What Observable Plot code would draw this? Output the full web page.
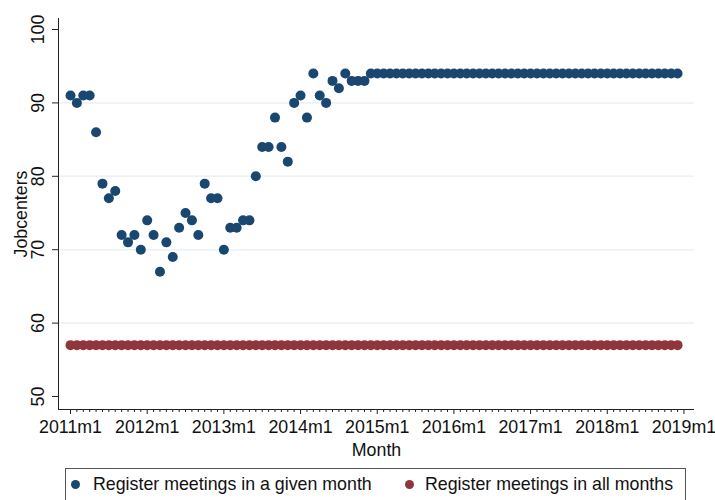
<!DOCTYPE html>
<html>
<head>
<meta charset="utf-8">
<script src="https://cdn.jsdelivr.net/npm/d3@7"></script>
<script src="https://cdn.jsdelivr.net/npm/@observablehq/plot@0.6"></script>
<style>
  body { margin: 0; background: #fff; font-family: "Liberation Sans", Arial, sans-serif; }
  #wrap { position: relative; width: 715px; height: 500px; overflow: hidden; }
  #legend { position: absolute; left: 65px; top: 468px; width: 621px; height: 40px; border: 1px solid #555; box-sizing: border-box; }
  .item { position: absolute; top: 9px; font-size: 17.8px; color: #111; white-space: nowrap; line-height: 18px; }
  .dot { position: absolute; width: 9px; height: 9px; border-radius: 50%; top: 4px; }
</style>
</head>
<body>
<div id="wrap"></div>
<script>
// Monthly data, 2011m1 .. 2018m12 (month index 0..95)
const monthIndex = [
  0,1,2,3,4,5,6,7,8,9,10,11,
  12,13,14,15,16,17,18,19,20,21,22,23,
  24,25,26,27,28,29,30,31,32,33,34,35,
  36,37,38,39,40,41,42,43,44,45,46,47,
  48,49,50,51,52,53,54,55,56,57,58,59,
  60,61,62,63,64,65,66,67,68,69,70,71,
  72,73,74,75,76,77,78,79,80,81,82,83,
  84,85,86,87,88,89,90,91,92,93,94,95
];
const givenMonth = [
  91,90,91,91,86,79,77,78,72,71,72,70,
  74,72,67,71,69,73,75,74,72,79,77,77,
  70,73,73,74,74,80,84,84,88,84,82,90,
  91,88,94,91,90,93,92,94,93,93,93,94,
  94,94,94,94,94,94,94,94,94,94,94,94,
  94,94,94,94,94,94,94,94,94,94,94,94,
  94,94,94,94,94,94,94,94,94,94,94,94,
  94,94,94,94,94,94,94,94,94,94,94,94
];
const allMonths = [
  57,57,57,57,57,57,57,57,57,57,57,57,
  57,57,57,57,57,57,57,57,57,57,57,57,
  57,57,57,57,57,57,57,57,57,57,57,57,
  57,57,57,57,57,57,57,57,57,57,57,57,
  57,57,57,57,57,57,57,57,57,57,57,57,
  57,57,57,57,57,57,57,57,57,57,57,57,
  57,57,57,57,57,57,57,57,57,57,57,57,
  57,57,57,57,57,57,57,57,57,57,57,57
];
const xTickPos = [0, 12, 24, 36, 48, 60, 72, 84, 96];
const xTickLabels = ["2011m1","2012m1","2013m1","2014m1","2015m1","2016m1","2017m1","2018m1","2019m1"];
const minorTickPos = [
  1,2,3,4,5,6,7,8,9,10,11,13,14,15,16,17,18,19,20,21,22,23,
  25,26,27,28,29,30,31,32,33,34,35,37,38,39,40,41,42,43,44,45,46,47,
  49,50,51,52,53,54,55,56,57,58,59,61,62,63,64,65,66,67,68,69,70,71,
  73,74,75,76,77,78,79,80,81,82,83,85,86,87,88,89,90,91,92,93,94,95
];
const yTicks = [50, 60, 70, 80, 90, 100];
const yGrid = [60, 70, 80, 90];
const seriesNames = ["Register meetings in a given month", "Register meetings in all months"];
const seriesColors = ["#1a476f", "#90353b"];

const xDomain = [-1.88, 97.65];
const yDomain = [48.23, 101.5];
const FS = 17.8;

const blueData = monthIndex.map((m, i) => ({m, v: givenMonth[i]}));
const redData = monthIndex.map((m, i) => ({m, v: allMonths[i]}));

const chart = Plot.plot({
  width: 715,
  height: 460,
  marginLeft: 58,
  marginRight: 21,
  marginTop: 18,
  marginBottom: 51,
  style: {fontFamily: "'Liberation Sans', Arial, sans-serif", color: "#111", background: "#fff"},
  x: {domain: xDomain, axis: null},
  y: {domain: yDomain, axis: null},
  marks: [
    Plot.ruleY(yGrid, {stroke: "#eaf2f3", strokeWidth: 1.5}),
    Plot.ruleX([xDomain[0]], {stroke: "#222", strokeWidth: 1}),
    Plot.ruleY([yDomain[0]], {stroke: "#222", strokeWidth: 1}),
    Plot.axisX(xTickPos, {anchor: "bottom", label: null, tickSize: 5, tickPadding: 6, fontSize: FS,
      tickFormat: d => xTickLabels[xTickPos.indexOf(d)], stroke: "#222", fill: "#111"}),
    Plot.axisX(minorTickPos, {anchor: "bottom", label: null, tickSize: 3, tickFormat: () => "", stroke: "#222"}),
    Plot.axisY(yTicks, {anchor: "left", label: null, tickSize: 6, tickFormat: () => "", stroke: "#222"}),
    Plot.text(yTicks, {x: xDomain[0], y: d => d, text: d => String(d), rotate: -90,
      textAnchor: "middle", lineAnchor: "middle", dx: -20, fontSize: FS, fill: "#111"}),
    Plot.text(["Jobcenters"], {frameAnchor: "left", rotate: -90, textAnchor: "middle", lineAnchor: "middle",
      dx: -37, fontSize: FS, fill: "#111"}),
    Plot.text(["Month"], {frameAnchor: "bottom", textAnchor: "middle", lineAnchor: "middle",
      dy: 41, fontSize: FS, fill: "#111"}),
    Plot.dot(redData, {x: "m", y: "v", r: 5, fill: seriesColors[1], stroke: "none"}),
    Plot.dot(blueData, {x: "m", y: "v", r: 5, fill: seriesColors[0], stroke: "none"})
  ]
});

const wrap = document.getElementById("wrap");
wrap.appendChild(chart);

const legend = document.createElement("div");
legend.id = "legend";
const itemLefts = [[5, 27], [339, 359]];
seriesNames.forEach((name, i) => {
  const dot = document.createElement("div");
  dot.className = "dot";
  dot.style.background = seriesColors[i];
  dot.style.left = itemLefts[i][0] + "px";
  dot.style.top = "11px";
  legend.appendChild(dot);
  const it = document.createElement("div");
  it.className = "item";
  it.style.left = itemLefts[i][1] + "px";
  it.style.top = "6px";
  it.textContent = name;
  legend.appendChild(it);
});
wrap.appendChild(legend);
</script>
</body>
</html>
